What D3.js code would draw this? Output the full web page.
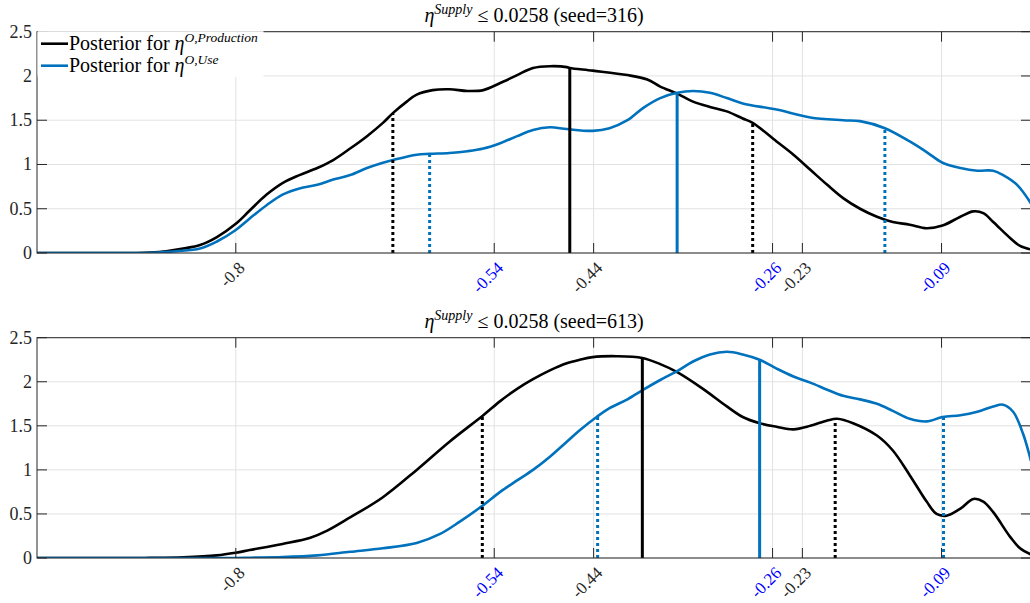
<!DOCTYPE html>
<html>
<head>
<meta charset="utf-8">
<script src="https://cdn.jsdelivr.net/npm/d3@7"></script>
<style>
  html, body { margin: 0; padding: 0; background: #fff; }
  svg { display: block; }
  text { font-family: "Liberation Serif", "DejaVu Serif", serif; }
</style>
</head>
<body>
<svg id="chart" width="1030" height="603"></svg>
<script>
// ---- data ---------------------------------------------------------------
const seeds = [316, 613];
const supplyBound = "0.0258";
const seriesNames = ["O,Production", "O,Use"];

const xTickValues = [-0.8, -0.54, -0.44, -0.26, -0.23, -0.09];
const xTickLabels = ["-0.8", "-0.54", "-0.44", "-0.26", "-0.23", "-0.09"];
const xTickSeries = [0, 1, 0, 1, 0, 1];
const yTickValues = [0, 0.5, 1, 1.5, 2, 2.5];
const yTickLabels = ["0", "0.5", "1", "1.5", "2", "2.5"];

// seed 316 – production posterior density
const prod316X = [-1, -0.9, -0.886, -0.87, -0.853, -0.836, -0.819, -0.8, -0.786, -0.769, -0.753, -0.736, -0.718, -0.702, -0.685, -0.668, -0.652, -0.642, -0.628, -0.618, -0.602, -0.585, -0.567, -0.551, -0.534, -0.517, -0.501, -0.484, -0.467, -0.464, -0.441, -0.406, -0.386, -0.373, -0.356, -0.340, -0.323, -0.306, -0.290, -0.280, -0.256, -0.239, -0.222, -0.205, -0.189, -0.172, -0.155, -0.139, -0.122, -0.105, -0.089, -0.071, -0.058, -0.048, -0.038, -0.021, -0.011, 0];
const prod316Y = [0, 0, 0.005, 0.02, 0.05, 0.09, 0.18, 0.33, 0.48, 0.66, 0.79, 0.88, 0.96, 1.05, 1.18, 1.32, 1.47, 1.58, 1.71, 1.79, 1.84, 1.85, 1.83, 1.84, 1.92, 2.01, 2.09, 2.11, 2.10, 2.09, 2.06, 2.01, 1.96, 1.88, 1.80, 1.71, 1.65, 1.60, 1.52, 1.47, 1.26, 1.11, 0.94, 0.77, 0.62, 0.50, 0.41, 0.35, 0.32, 0.28, 0.31, 0.41, 0.47, 0.45, 0.35, 0.17, 0.08, 0.04];

// seed 316 – use posterior density
const use316X = [-1, -0.9, -0.886, -0.86, -0.836, -0.819, -0.8, -0.786, -0.769, -0.753, -0.736, -0.718, -0.702, -0.685, -0.668, -0.652, -0.642, -0.618, -0.605, -0.585, -0.567, -0.551, -0.534, -0.517, -0.501, -0.484, -0.467, -0.441, -0.424, -0.406, -0.390, -0.373, -0.356, -0.340, -0.323, -0.306, -0.290, -0.256, -0.222, -0.189, -0.172, -0.147, -0.122, -0.105, -0.089, -0.071, -0.054, -0.038, -0.028, -0.014, 0];
const use316Y = [0, 0, 0.003, 0.02, 0.05, 0.13, 0.26, 0.39, 0.54, 0.66, 0.73, 0.77, 0.83, 0.88, 0.96, 1.02, 1.05, 1.11, 1.12, 1.13, 1.15, 1.18, 1.24, 1.32, 1.39, 1.42, 1.40, 1.38, 1.41, 1.50, 1.64, 1.75, 1.81, 1.83, 1.81, 1.75, 1.69, 1.62, 1.53, 1.50, 1.49, 1.41, 1.26, 1.14, 1.02, 0.96, 0.93, 0.93, 0.88, 0.77, 0.56];

// seed 613 – production posterior density
const prod613X = [-1, -0.9, -0.886, -0.853, -0.819, -0.8, -0.786, -0.753, -0.725, -0.708, -0.685, -0.652, -0.618, -0.585, -0.551, -0.534, -0.517, -0.501, -0.484, -0.467, -0.454, -0.441, -0.417, -0.391, -0.373, -0.356, -0.330, -0.306, -0.290, -0.273, -0.256, -0.239, -0.222, -0.205, -0.195, -0.179, -0.155, -0.139, -0.122, -0.105, -0.095, -0.085, -0.071, -0.058, -0.048, -0.038, -0.021, -0.011, 0];
const prod613Y = [0, 0, 0.001, 0.008, 0.03, 0.06, 0.09, 0.16, 0.23, 0.31, 0.46, 0.69, 1.00, 1.32, 1.62, 1.78, 1.92, 2.03, 2.13, 2.21, 2.25, 2.28, 2.29, 2.27, 2.20, 2.11, 1.92, 1.72, 1.60, 1.53, 1.49, 1.46, 1.50, 1.56, 1.58, 1.53, 1.39, 1.22, 0.94, 0.64, 0.50, 0.48, 0.56, 0.67, 0.64, 0.52, 0.24, 0.11, 0.04];

// seed 613 – use posterior density
const use613X = [-1, -0.8, -0.786, -0.753, -0.718, -0.685, -0.652, -0.618, -0.595, -0.575, -0.551, -0.534, -0.517, -0.501, -0.484, -0.467, -0.454, -0.437, -0.424, -0.406, -0.390, -0.373, -0.356, -0.340, -0.323, -0.306, -0.290, -0.273, -0.256, -0.239, -0.222, -0.205, -0.189, -0.172, -0.155, -0.139, -0.122, -0.105, -0.089, -0.071, -0.054, -0.038, -0.028, -0.018, -0.008, 0];
const use613Y = [0, 0, 0.003, 0.01, 0.03, 0.07, 0.11, 0.17, 0.27, 0.41, 0.60, 0.75, 0.88, 1.00, 1.15, 1.32, 1.45, 1.60, 1.70, 1.80, 1.91, 2.02, 2.12, 2.23, 2.31, 2.34, 2.31, 2.25, 2.15, 2.06, 1.99, 1.91, 1.84, 1.80, 1.75, 1.67, 1.58, 1.55, 1.60, 1.62, 1.66, 1.72, 1.74, 1.66, 1.41, 1.10];

// posterior summary markers: [prod low, use low, prod median, use median, prod high, use high]
const markerSeries = [0, 1, 0, 1, 0, 1];
const markerKind = ["bound", "bound", "median", "median", "bound", "bound"];
const markers316X = [-0.642, -0.605, -0.464, -0.356, -0.280, -0.147];
const markers316Y = [1.58, 1.12, 2.09, 1.81, 1.47, 1.41];
const markers613X = [-0.552, -0.436, -0.391, -0.273, -0.197, -0.088];
const markers613Y = [1.60, 1.60, 2.27, 2.25, 1.58, 1.60];

// ---- drawing ------------------------------------------------------------
const seriesColor = ["#000000", "#0072BD"];
const tickLabelColor = ["#262626", "#0000FF"];
const axisColor = "#262626";
const gridColor = "#e2e2e2";

const svg = d3.select("#chart");
const left = 37, right = 1031;
const x = d3.scaleLinear().domain([-1, 0]).range([left, right]);

const panels = [
  { top: 31.7, bottom: 253, seed: seeds[0],
    curves: [[prod316X, prod316Y], [use316X, use316Y]],
    mx: markers316X, my: markers316Y, legend: true },
  { top: 337.7, bottom: 558, seed: seeds[1],
    curves: [[prod613X, prod613Y], [use613X, use613Y]],
    mx: markers613X, my: markers613Y, legend: false }
];

const clipId = (i) => "clip" + i;

panels.forEach((p, pi) => {
  const y = d3.scaleLinear().domain([0, 2.5]).range([p.bottom, p.top]);
  const g = svg.append("g");

  svg.append("clipPath").attr("id", clipId(pi))
    .append("rect").attr("x", left).attr("y", p.top)
    .attr("width", right - left).attr("height", p.bottom - p.top);

  // grid
  const grid = g.append("g");
  grid.selectAll("line.gx").data(xTickValues).join("line")
    .attr("x1", d => x(d)).attr("x2", d => x(d))
    .attr("y1", p.top).attr("y2", p.bottom)
    .attr("stroke", gridColor).attr("stroke-width", 1);
  grid.selectAll("line.gy").data(yTickValues).join("line")
    .attr("x1", left).attr("x2", right)
    .attr("y1", d => y(d)).attr("y2", d => y(d))
    .attr("stroke", gridColor).attr("stroke-width", 1);

  // density curves
  const line = d3.line().x(d => x(d[0])).y(d => y(d[1])).curve(d3.curveCatmullRom.alpha(0.5));
  const plot = g.append("g").attr("clip-path", `url(#${clipId(pi)})`);
  p.curves.forEach((c, ci) => {
    const pts = c[0].map((v, k) => [v, c[1][k]]);
    plot.append("path").datum(pts)
      .attr("d", line)
      .attr("fill", "none")
      .attr("stroke", seriesColor[ci])
      .attr("stroke-width", 2.6)
      .attr("stroke-linejoin", "round");
  });

  // vertical summary markers
  plot.selectAll("line.marker").data(p.mx).join("line")
    .attr("x1", d => x(d)).attr("x2", d => x(d))
    .attr("y1", y(0)).attr("y2", (d, k) => y(p.my[k]))
    .attr("stroke", (d, k) => seriesColor[markerSeries[k]])
    .attr("stroke-width", 3)
    .attr("stroke-dasharray", (d, k) => markerKind[k] === "bound" ? "3,3" : null);

  // axes box
  const ax = g.append("g").attr("stroke", axisColor).attr("stroke-width", 1).attr("fill", "none");
  ax.append("rect").attr("x", left).attr("y", p.top)
    .attr("width", right - left).attr("height", p.bottom - p.top);

  const tl = 10;
  ax.selectAll("line.bt").data(xTickValues).join("line")
    .attr("x1", d => x(d)).attr("x2", d => x(d))
    .attr("y1", p.bottom).attr("y2", p.bottom - tl);
  ax.selectAll("line.tt").data(xTickValues).join("line")
    .attr("x1", d => x(d)).attr("x2", d => x(d))
    .attr("y1", p.top).attr("y2", p.top + tl);
  ax.selectAll("line.lt").data(yTickValues).join("line")
    .attr("x1", left).attr("x2", left + tl)
    .attr("y1", d => y(d)).attr("y2", d => y(d));
  ax.selectAll("line.rt").data(yTickValues).join("line")
    .attr("x1", right).attr("x2", right - tl)
    .attr("y1", d => y(d)).attr("y2", d => y(d));

  // y tick labels
  g.selectAll("text.yl").data(yTickValues).join("text")
    .attr("x", left - 5).attr("y", d => y(d))
    .attr("dy", "0.33em")
    .attr("text-anchor", "end")
    .attr("font-size", 18)
    .attr("fill", axisColor)
    .text((d, k) => yTickLabels[k]);

  // x tick labels, rotated
  g.selectAll("text.xl").data(xTickValues).join("text")
    .attr("transform", d => `translate(${x(d) + 6},${p.bottom + 12}) rotate(-45)`)
    .attr("text-anchor", "end")
    .attr("dy", "0.33em")
    .attr("font-size", 17)
    .attr("fill", (d, k) => tickLabelColor[xTickSeries[k]])
    .text((d, k) => xTickLabels[k]);

  // title
  const t = g.append("text")
    .attr("x", (left + right) / 2).attr("y", p.top - 10)
    .attr("text-anchor", "middle").attr("font-size", 20).attr("fill", "#000");
  t.append("tspan").attr("font-style", "italic").text("η");
  t.append("tspan").attr("font-style", "italic").attr("font-size", 14).attr("dy", -8).text("Supply");
  t.append("tspan").attr("dy", 8).text(` ≤ ${supplyBound} (seed=${p.seed})`);

  // legend
  if (p.legend) {
    const lg = g.append("g");
    lg.append("rect").attr("x", left + 0.5).attr("y", p.top - 0.5)
      .attr("width", 226).attr("height", 46).attr("fill", "#fff");
    seriesNames.forEach((name, k) => {
      const ly = p.top + 12 + k * 22;
      lg.append("line").attr("x1", 41).attr("x2", 68)
        .attr("y1", ly).attr("y2", ly)
        .attr("stroke", seriesColor[k]).attr("stroke-width", 2.6);
      const tx = lg.append("text").attr("x", 69).attr("y", ly + 6)
        .attr("font-size", 20).attr("fill", "#000");
      tx.append("tspan").text("Posterior for ");
      tx.append("tspan").attr("font-style", "italic").text("η");
      tx.append("tspan").attr("font-style", "italic").attr("font-size", 13.5)
        .attr("dy", -8).text(name);
    });
  }
});
</script>
</body>
</html>
